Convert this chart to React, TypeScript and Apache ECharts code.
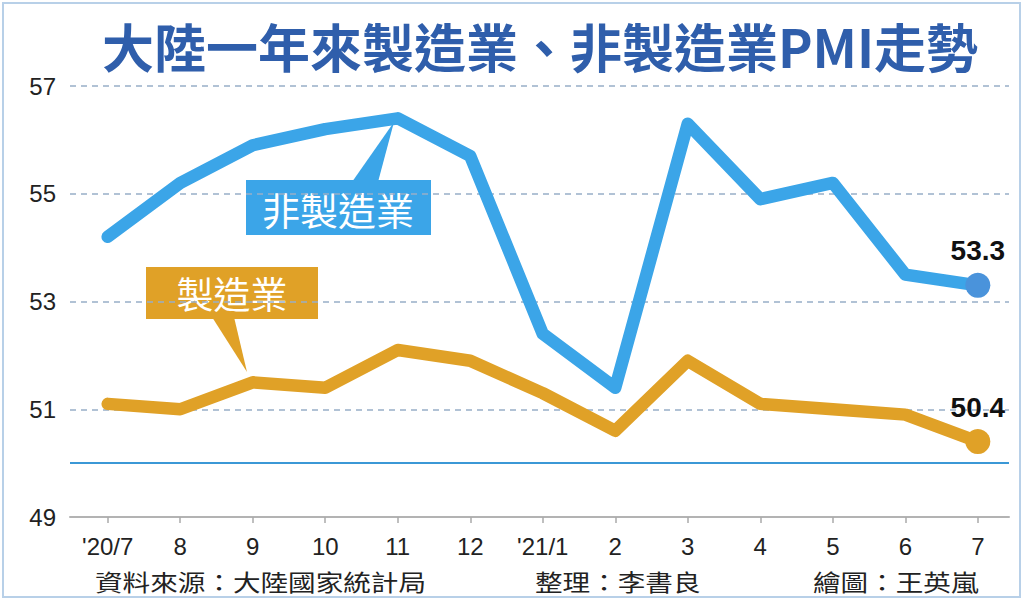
import React, { useEffect, useRef } from "react";
import * as echarts from "echarts";

const categories = ["'20/7", "8", "9", "10", "11", "12", "'21/1", "2", "3", "4", "5", "6", "7"];
const nonManufacturing = [54.2, 55.2, 55.9, 56.2, 56.4, 55.7, 52.4, 51.4, 56.3, 54.9, 55.2, 53.5, 53.3];
const manufacturing = [51.1, 51.0, 51.5, 51.4, 52.1, 51.9, 51.3, 50.6, 51.9, 51.1, 51.0, 50.9, 50.4];
const yMin = 49;
const yMax = 57;
const yStep = 2;
const refLine = 50;
const titleText = "大陸一年來製造業、非製造業PMI走勢";
const seriesNames = ["非製造業", "製造業"];
const footerTexts = ["資料來源：大陸國家統計局", "整理：李書良", "繪圖：王英嵐"];

const BLUE = "#3ba5e8";
const BLUE_DOT = "#4a93db";
const ORANGE = "#e0a127";
const CJK = '"Noto Sans CJK TC", "Noto Sans CJK SC", sans-serif';
const LATIN = '"Liberation Sans", Arial, sans-serif';

function buildData(values: number[], last: number) {
  return values.map((v, i) =>
    i === last ? { value: [i, v], label: { show: true } } : [i, v]
  );
}

export default function App() {
  const ref = useRef<HTMLDivElement>(null);

  useEffect(() => {
    if (!ref.current) return;
    const chart = echarts.init(ref.current, null, { renderer: "svg" });
    const last = categories.length - 1;
    const idx = categories.map((_, i) => i);

    const lineSeries = (name: string, values: number[], color: string, dot: string, extra: any = {}) => ({
      type: "line",
      name,
      data: buildData(values, last),
      symbol: "circle",
      symbolSize: (_v: any, p: any) => (p.dataIndex === last ? 25 : 0),
      showSymbol: true,
      lineStyle: { color, width: 12.5, cap: "round", join: "round" },
      itemStyle: { color: dot },
      label: {
        show: false,
        position: "top",
        distance: 8,
        formatter: (p: any) => Number(p.value[1]).toFixed(1),
        fontSize: 28,
        fontWeight: "bold",
        color: "#111",
        fontFamily: LATIN,
      },
      emphasis: { disabled: true },
      ...extra,
    });

    chart.setOption({
      animation: false,
      backgroundColor: "#ffffff",
      grid: { left: 70, right: 15, top: 86, bottom: 85 },
      xAxis: {
        type: "value",
        min: -0.52,
        max: 12.43,
        splitLine: { show: false },
        axisLine: { show: true, onZero: false, lineStyle: { color: "#b3b3b3", width: 2 } },
        axisTick: { show: true, customValues: idx, length: 6, lineStyle: { color: "#aaaaaa", width: 1.5 } },
        axisLabel: {
          customValues: idx,
          formatter: (v: number) => categories[Math.round(v)] ?? "",
          fontSize: 24,
          margin: 17,
          color: "#222",
          fontFamily: LATIN,
        },
      },
      yAxis: {
        type: "value",
        min: yMin,
        max: yMax,
        interval: yStep,
        axisLine: { show: false },
        axisTick: { show: false },
        axisLabel: { fontSize: 24, color: "#222", margin: 14, fontFamily: LATIN },
        splitLine: { lineStyle: { type: [6, 5], color: "#98afc8", width: 1.5 } },
      },
      series: [
        lineSeries(seriesNames[1], manufacturing, ORANGE, ORANGE, {
          z: 2,
          markLine: {
            silent: true,
            symbol: "none",
            label: { show: false },
            lineStyle: { type: "solid", color: "#3b98d6", width: 2 },
            data: [{ yAxis: refLine }],
          },
        }),
        lineSeries(seriesNames[0], nonManufacturing, BLUE, BLUE_DOT, { z: 3 }),
      ],
      graphic: [
        {
          type: "rect",
          z: 0,
          shape: { x: 3, y: 3, width: 1017, height: 594 },
          style: { fill: "none", stroke: "#b8d0e8", lineWidth: 2 },
        },
        {
          type: "text",
          x: 540,
          y: 45,
          style: {
            text: titleText,
            font: `bold 52px ${CJK}`,
            fill: "#2f5eab",
            textAlign: "center",
            textVerticalAlign: "middle",
          },
        },
        {
          type: "group",
          z: 10,
          children: [
            { type: "polygon", shape: { points: [[352, 182], [378, 182], [394, 122]] }, style: { fill: BLUE } },
            { type: "rect", shape: { x: 246, y: 180, width: 185, height: 55 }, style: { fill: BLUE } },
            {
              type: "text",
              x: 338,
              y: 208,
              style: {
                text: seriesNames[0],
                font: `38px ${CJK}`,
                fill: "#ffffff",
                textAlign: "center",
                textVerticalAlign: "middle",
              },
            },
          ],
        },
        {
          type: "group",
          z: 10,
          children: [
            { type: "polygon", shape: { points: [[212, 317], [234, 317], [247, 372]] }, style: { fill: ORANGE } },
            { type: "rect", shape: { x: 146, y: 267, width: 172, height: 52 }, style: { fill: ORANGE } },
            {
              type: "text",
              x: 232,
              y: 293,
              style: {
                text: seriesNames[1],
                font: `37px ${CJK}`,
                fill: "#ffffff",
                textAlign: "center",
                textVerticalAlign: "middle",
              },
            },
          ],
        },
        ...footerTexts.map((t, i) => ({
          type: "text",
          x: [95, 535, 813][i],
          y: 581,
          scaleX: 1.2,
          style: {
            text: t,
            font: `23px ${CJK}`,
            fill: "#222",
            textAlign: "left",
            textVerticalAlign: "middle",
          },
        })),
      ],
    });

    return () => chart.dispose();
  }, []);

  return (
    <div
      ref={ref}
      style={{ position: "absolute", left: 0, top: 0, width: 1024, height: 602 }}
    />
  );
}
